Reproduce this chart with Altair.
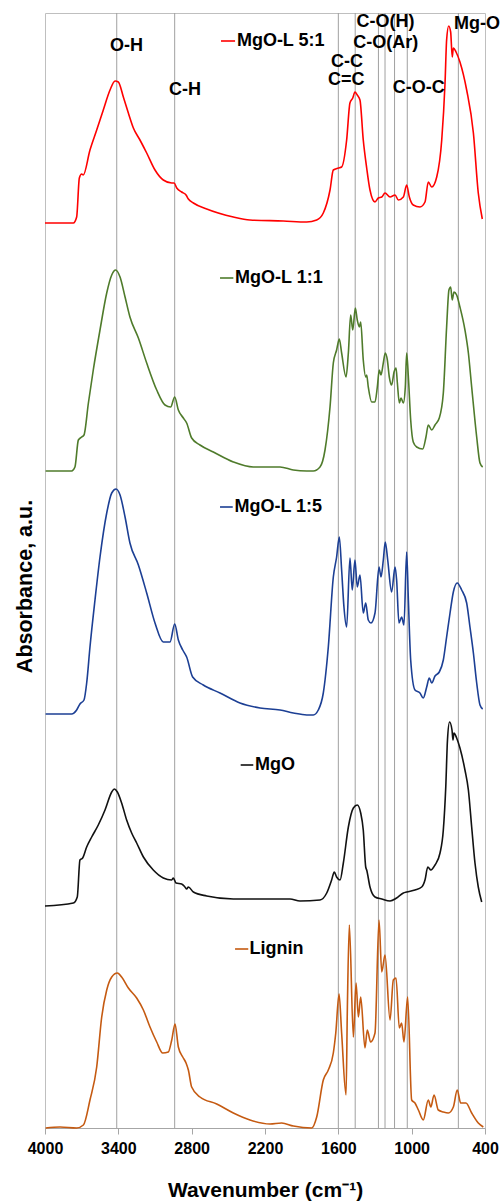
import altair as alt
import pandas as pd

# ---- spectra (wavenumber cm-1, absorbance a.u. incl. stacking offset) ----
wn_51 = [4000,3768,3741,3719,3700,3687,3632,3577,3523,3468,3427,3400,3359,3318,3277,3223,3168,3100,3032,2963,2944,2922,2882,2846,2827,2786,2677,2459,2323,2050,1859,1777,1723,1668,1641,1600,1573,1532,1505,1482,1464,1445,1423,1396,1368,1341,1300,1273,1245,1218,1177,1136,1109,1068,1041,1019,987,932,891,864,836,795,754,727,714,697,681,668,659,637,605,550,495,455,422]
ab_51 = [9.05,9.05,9.11,9.50,9.54,9.53,9.78,9.98,10.18,10.38,10.47,10.46,10.31,10.15,10.00,9.88,9.75,9.58,9.48,9.45,9.45,9.40,9.36,9.33,9.29,9.25,9.19,9.11,9.08,9.07,9.06,9.08,9.15,9.38,9.58,9.60,9.61,9.88,10.25,10.30,10.36,10.33,10.28,9.88,9.60,9.38,9.26,9.30,9.31,9.35,9.31,9.33,9.28,9.31,9.43,9.31,9.23,9.21,9.26,9.46,9.41,9.51,9.88,10.45,10.88,11.02,10.96,10.71,10.80,10.76,10.66,10.38,9.95,9.35,9.09]

wn_11 = [3995,3782,3755,3727,3700,3681,3645,3605,3550,3495,3454,3422,3386,3345,3305,3236,3168,3086,3018,2972,2939,2909,2868,2841,2800,2732,2623,2459,2296,2077,1968,1859,1805,1750,1709,1668,1641,1614,1592,1573,1537,1518,1499,1482,1461,1445,1428,1417,1396,1376,1368,1355,1327,1300,1281,1265,1251,1232,1216,1199,1183,1164,1144,1128,1117,1101,1087,1068,1052,1041,1027,1008,987,959,910,883,864,836,809,774,741,714,695,681,668,654,632,605,564,536,509,468,441,419]
ab_11 = [6.57,6.57,6.61,6.88,6.91,6.93,7.25,7.58,7.98,8.35,8.53,8.58,8.51,8.31,8.11,7.90,7.65,7.38,7.23,7.21,7.31,7.18,7.10,7.05,6.90,6.83,6.76,6.66,6.61,6.61,6.58,6.57,6.57,6.61,6.78,7.21,7.65,7.78,7.89,7.75,7.51,7.75,8.13,7.98,8.20,8.08,8.01,8.06,7.68,7.51,7.53,7.41,7.26,7.26,7.41,7.58,7.53,7.65,7.75,7.68,7.51,7.43,7.56,7.60,7.45,7.25,7.30,7.25,7.41,7.75,7.51,7.08,6.86,6.81,6.79,6.91,7.03,6.98,7.03,7.10,7.35,8.01,8.38,8.41,8.28,8.36,8.33,8.21,7.98,7.75,7.41,6.91,6.65,6.61]

wn_15 = [3995,3782,3741,3714,3681,3659,3632,3591,3550,3495,3454,3419,3386,3345,3305,3236,3168,3100,3032,2977,2939,2909,2873,2841,2792,2705,2568,2405,2241,2077,1968,1859,1805,1764,1723,1682,1641,1614,1592,1573,1554,1532,1505,1486,1464,1445,1423,1396,1376,1355,1333,1300,1267,1251,1232,1216,1196,1164,1136,1123,1104,1082,1063,1041,1027,1008,973,932,905,877,856,836,809,774,741,714,686,659,627,591,550,523,495,468,441,419]
ab_15 = [4.14,4.14,4.18,4.24,4.28,4.45,4.81,5.28,5.71,6.15,6.35,6.39,6.33,6.11,5.85,5.63,5.35,5.05,4.86,4.86,5.04,4.88,4.78,4.71,4.51,4.43,4.35,4.25,4.20,4.18,4.15,4.13,4.13,4.18,4.35,4.81,5.51,5.71,5.91,5.58,5.21,5.01,5.70,5.38,5.68,5.41,5.53,5.15,5.25,5.08,5.05,5.15,5.61,5.51,5.68,5.86,5.68,5.36,5.61,5.48,5.05,5.11,5.03,5.76,5.28,4.68,4.38,4.35,4.30,4.41,4.50,4.45,4.52,4.56,4.68,4.91,5.15,5.36,5.45,5.38,5.25,5.01,4.75,4.45,4.23,4.19]

wn_mgo = [4000,3768,3736,3714,3692,3659,3618,3564,3509,3454,3433,3408,3373,3332,3291,3250,3195,3114,3032,2963,2950,2928,2882,2855,2841,2827,2786,2677,2459,2186,1995,1914,1750,1695,1655,1633,1614,1586,1559,1518,1477,1445,1417,1396,1376,1368,1341,1300,1245,1177,1123,1068,1041,973,918,891,868,843,809,768,741,721,707,690,670,662,654,632,605,564,536,509,482,455,427]
ab_mgo = [2.22,2.25,2.31,2.68,2.70,2.81,2.91,3.03,3.18,3.36,3.39,3.36,3.25,3.08,2.95,2.85,2.71,2.58,2.50,2.48,2.50,2.45,2.44,2.41,2.39,2.41,2.36,2.32,2.29,2.29,2.29,2.27,2.28,2.35,2.48,2.56,2.51,2.48,2.65,3.01,3.20,3.23,3.15,2.98,2.61,2.58,2.41,2.31,2.29,2.27,2.30,2.35,2.36,2.38,2.41,2.48,2.61,2.58,2.63,2.75,2.98,3.41,3.88,4.06,3.98,3.88,3.95,3.90,3.80,3.58,3.38,3.01,2.65,2.41,2.26]

wn_lig = [3995,3877,3741,3686,3632,3577,3536,3495,3454,3408,3373,3318,3250,3195,3141,3086,3037,2991,2963,2936,2909,2873,2846,2827,2800,2732,2595,2459,2323,2159,2064,1968,1818,1777,1723,1682,1641,1621,1594,1573,1537,1526,1510,1477,1455,1436,1417,1382,1363,1336,1300,1267,1245,1218,1177,1150,1128,1101,1082,1063,1033,1000,973,945,905,864,843,817,782,741,700,659,627,599,556,509,455,414]
ab_lig = [0.00,0.01,0.00,0.03,0.28,0.61,1.11,1.38,1.51,1.55,1.51,1.40,1.30,1.18,1.01,0.86,0.75,0.76,0.88,1.04,0.81,0.71,0.65,0.58,0.41,0.31,0.24,0.15,0.08,0.04,0.05,0.02,0.00,0.11,0.48,0.58,0.75,0.95,1.34,0.95,0.33,1.21,2.03,0.91,1.45,1.11,1.31,0.80,0.98,0.86,0.95,2.08,1.56,1.73,1.08,1.48,1.50,1.00,1.05,0.86,1.31,0.28,0.25,0.18,0.08,0.28,0.21,0.33,0.18,0.16,0.15,0.21,0.38,0.25,0.25,0.15,0.05,0.01]

series_names = ["MgO-L 5:1", "MgO-L 1:1", "MgO-L 1:5", "MgO", "Lignin"]
series_colors = ["#ff0000", "#4f7b2b", "#1c3f94", "#111111", "#c55a11"]
series_wn = [wn_51, wn_11, wn_15, wn_mgo, wn_lig]
series_ab = [ab_51, ab_11, ab_15, ab_mgo, ab_lig]

# per-series label (legend) placement in data units
leg_x1 = [2560, 2568, 2568, 2399, 2445]
leg_x2 = [2445, 2459, 2464, 2296, 2337]
leg_tx = [2430, 2445, 2450, 2282, 2327]
leg_y = [10.87, 8.50, 6.21, 3.63, 1.79]

# band assignment lines and labels
band_lines = [3413, 2939, 1600, 1462, 1272, 1218, 1140, 1036, 618]
band_text = ["O-H", "C-H", "C-C", "C=C", "C-O(H)", "C-O(Ar)", "C-O-C", "Mg-O"]
band_tx = [3334, 2855, 1530, 1535, 1214, 1212, 942, 465]
band_ty = [10.82, 10.38, 10.66, 10.48, 11.06, 10.85, 10.40, 11.04]

x_ticks = [4000, 3400, 2800, 2200, 1600, 1000, 400]

rows = []
for name, wns, abs_ in zip(series_names, series_wn, series_ab):
    for i, (w, a) in enumerate(zip(wns, abs_)):
        rows.append({"series": name, "wn": w, "ab": a, "order": i})
spec = pd.DataFrame(rows)

leg = pd.DataFrame({"series": series_names, "x1": leg_x1, "x2": leg_x2,
                    "tx": leg_tx, "y": leg_y})
bands = pd.DataFrame({"wn": band_lines})
labels = pd.DataFrame({"t": band_text, "x": band_tx, "y": band_ty})

FONT = "Liberation Sans"
xscale = alt.Scale(domain=[400, 4000], reverse=True, nice=False, zero=False)
yscale = alt.Scale(domain=[0, 11.15], nice=False, zero=True)
cscale = alt.Scale(domain=series_names, range=series_colors)

xaxis = alt.Axis(values=x_ticks, format="d", grid=False, title="Wavenumber (cm⁻¹)",
                 labelFont=FONT, labelFontSize=16, labelFontWeight="bold",
                 labelColor="#000000", labelPadding=6, tickSize=6,
                 tickColor="#a6a6a6", domainColor="#a6a6a6",
                 titleFont=FONT, titleFontSize=21, titleFontWeight="bold",
                 titleColor="#000000", titleBaseline="alphabetic", titleY=68,
                 labelFlush=False)
yaxis = alt.Axis(labels=False, ticks=False, domain=False, grid=False,
                 title="Absorbance, a.u.", titleFont=FONT, titleFontSize=21.5,
                 titleFontWeight="bold", titleColor="#000000", titleAngle=270,
                 titleBaseline="alphabetic", titleAlign="center",
                 titleX=-14, titleY=573)

rules = alt.Chart(bands).mark_rule(color="#a0a0a0", strokeWidth=1).encode(
    x=alt.X("wn:Q", scale=xscale, axis=xaxis)
)

lines = alt.Chart(spec).mark_line(strokeWidth=1.6, interpolate="monotone").encode(
    x=alt.X("wn:Q", scale=xscale, axis=xaxis),
    y=alt.Y("ab:Q", scale=yscale, axis=yaxis),
    color=alt.Color("series:N", scale=cscale, legend=None),
    order="order:Q",
    detail="series:N",
)

leg_lines = alt.Chart(leg).mark_rule(strokeWidth=1.6).encode(
    x=alt.X("x1:Q", scale=xscale),
    x2="x2:Q",
    y=alt.Y("y:Q", scale=yscale),
    color=alt.Color("series:N", scale=cscale, legend=None),
)

leg_text = alt.Chart(leg).mark_text(align="left", baseline="middle", font=FONT,
                                    fontSize=18, fontWeight="bold", color="#000000").encode(
    x=alt.X("tx:Q", scale=xscale),
    y=alt.Y("y:Q", scale=yscale),
    text="series:N",
)

band_labels = alt.Chart(labels).mark_text(align="center", baseline="middle", font=FONT,
                                          fontSize=18, fontWeight="bold", color="#000000").encode(
    x=alt.X("x:Q", scale=xscale),
    y=alt.Y("y:Q", scale=yscale),
    text="t:N",
)

chart = alt.layer(rules, lines, leg_lines, leg_text, band_labels).properties(
    width=440, height=1115,
    autosize=alt.AutoSizeParams(type="none"),
    padding={"left": 45, "top": 13, "right": 15, "bottom": 74},
    background="#ffffff",
).configure_view(stroke="#bfbfbf", strokeWidth=1)

chart.save("out.html", embed_options={"renderer": "svg", "actions": False})
